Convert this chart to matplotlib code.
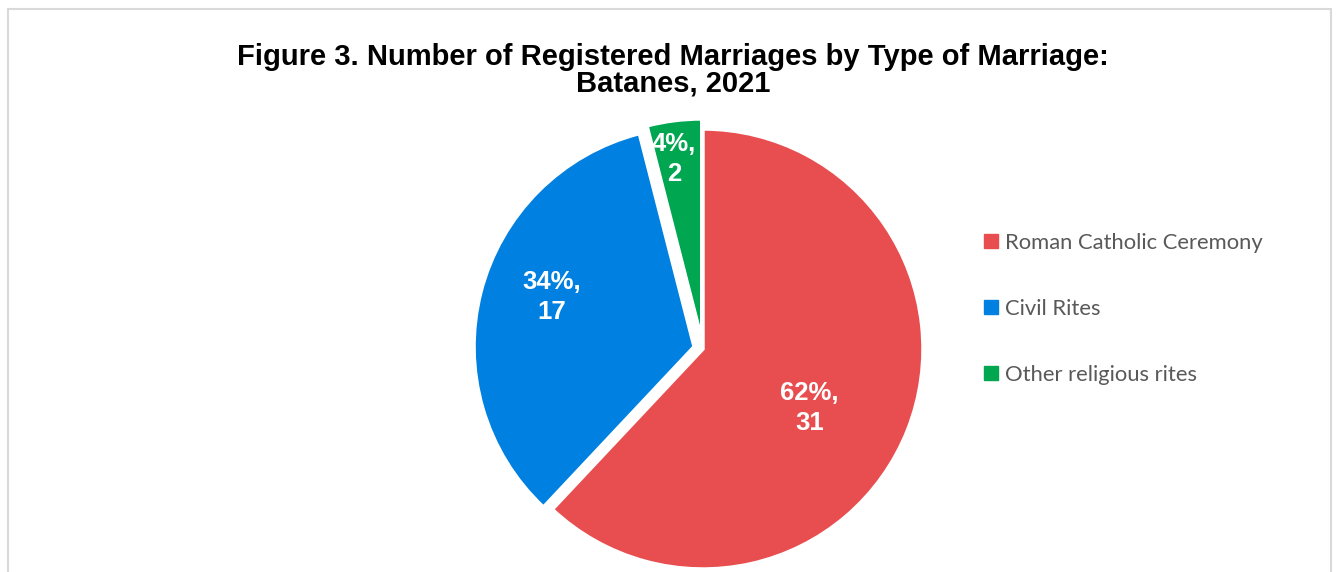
import matplotlib
matplotlib.use('Agg')
import matplotlib.pyplot as plt
from matplotlib.lines import Line2D
from matplotlib.patches import Rectangle
import numpy as np

# data
categories = ['Roman Catholic Ceremony', 'Civil Rites', 'Other religious rites']
counts = [31, 17, 2]
colors = ['#E84E4F', '#0080E0', '#00A650']
explode = [0.0, 0.042, 0.046]
# label placement (fraction of radius, relative to pie centre)
label_pos = [(0.484, -0.269), (-0.689, 0.237), (-0.132, 0.863)]

W, H = 1338, 572
fig = plt.figure(figsize=(W / 100, H / 100), dpi=100)

# chart border (bottom runs off the image)
fig.patches.append(Rectangle((8 / W, -0.05), 1323 / W, (H - 9) / H + 0.05,
                             transform=fig.transFigure, fill=False,
                             edgecolor='#D9D9D9', linewidth=1.5))

cx, cy, r = 703, 349, 220
pad = 1.15
ax = fig.add_axes([(cx - r * pad) / W, (H - cy - r * pad) / H,
                   2 * r * pad / W, 2 * r * pad / H])

wedges, _ = ax.pie(counts, colors=colors, startangle=90, counterclock=False,
                   explode=explode, radius=1.0,
                   wedgeprops=dict(edgecolor='white', linewidth=2.5))
ax.set_xlim(-pad, pad)
ax.set_ylim(-pad, pad)
ax.set_aspect('equal')
ax.axis('off')
for w in wedges:
    w.set_clip_on(False)

total = sum(counts)
for v, (lx, ly) in zip(counts, label_pos):
    ax.text(lx, ly, f'{round(v / total * 100)}%,\n{v}', ha='center', va='center',
            color='white', fontsize=18.5, fontweight='bold',
            family='Liberation Sans', linespacing=1.32)

fig.text(673 / W, 1 - 70 / H,
         'Figure 3. Number of Registered Marriages by Type of Marriage:\nBatanes, 2021',
         ha='center', va='center', fontsize=21, fontweight='bold',
         family='Liberation Sans', linespacing=0.92)

handles = [Line2D([], [], marker='s', linestyle='none', markersize=9.5,
                  markerfacecolor=c, markeredgecolor=c) for c in colors]
leg = fig.legend(handles, categories, loc='center left',
                 bbox_to_anchor=(972 / W, 1 - 309 / H), frameon=False,
                 prop={'family': 'Lato', 'size': 15.8}, labelcolor='#595959',
                 handlelength=0.7, handletextpad=0.3, labelspacing=2.1,
                 borderpad=0)

fig.savefig('out.png', dpi=100)
